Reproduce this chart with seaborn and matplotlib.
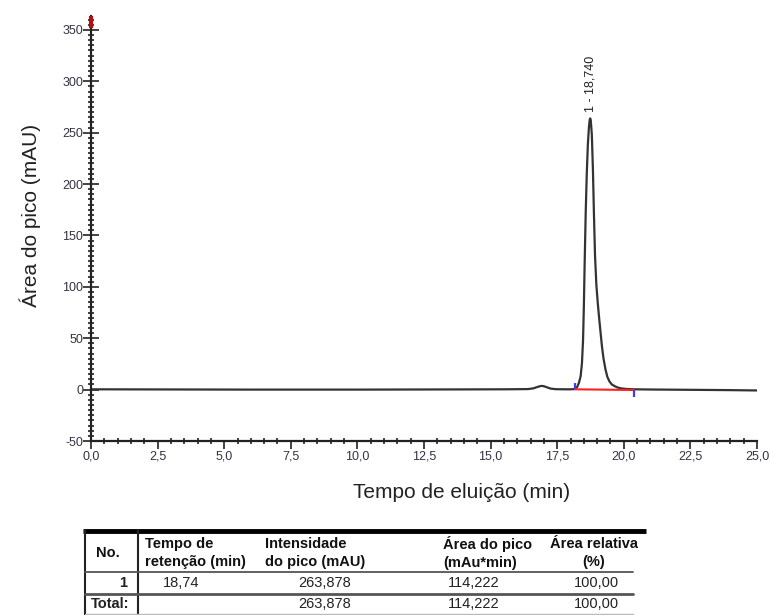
import matplotlib
matplotlib.use("Agg")
import matplotlib.pyplot as plt
from matplotlib.ticker import MultipleLocator, FuncFormatter
import seaborn as sns
import pandas as pd

# ---------------- data ----------------
time_min = [0.0, 2.0, 4.0, 6.0, 8.0, 10.0, 12.0, 14.0, 15.5, 16.4, 16.6, 16.75,
            16.85, 16.92, 17.0, 17.1, 17.25, 17.45, 17.8, 18.0, 18.15, 18.25, 18.32,
            18.38, 18.43, 18.47, 18.50, 18.53, 18.57, 18.61, 18.65, 18.69, 18.72,
            18.74, 18.76, 18.80, 18.84, 18.88, 18.92, 18.97, 19.02, 19.08, 19.13,
            19.18, 19.24, 19.31, 19.38, 19.46, 19.55, 19.65, 19.75, 19.90, 20.10,
            20.40, 21.0, 22.0, 23.0, 24.0, 24.6, 25.0]
signal_mau = [0.3, 0.2, 0.1, 0.0, 0.0, 0.0, 0.1, 0.2, 0.3, 0.5, 1.2, 2.5,
              3.3, 3.6, 3.3, 2.4, 1.0, 0.4, 0.3, 0.3, 0.5, 2.5, 7.0,
              13.0, 26.0, 48.0, 80.0, 122.0, 172.0, 210.0, 238.0, 255.0, 262.5,
              263.9, 262.0, 248.0, 215.0, 170.0, 130.0, 102.0, 85.0, 68.0, 55.0,
              42.0, 30.0, 20.0, 12.6, 8.0, 5.0, 3.5, 2.2, 1.2, 0.6,
              0.3, 0.1, -0.1, -0.3, -0.5, -0.7, -0.8]

integ_time = [18.17, 20.38]          # red integration baseline
integ_value = [0.3, -0.4]
event_time = [18.15, 20.40]          # blue peak start / end markers
event_low = [0.5, -7.0]
event_high = [6.5, -0.5]

peak_time = 18.74
peak_height = 263.878
peak_label = "1 - 18,740"

x_label = "Tempo de eluição (min)"
y_label = "Área do pico (mAU)"

table_header = ["No.", "Tempo de\nretenção (min)", "Intensidade\ndo pico (mAU)",
                "Área do pico\n(mAu*min)", "Área relativa\n(%)"]
table_row1 = ["1", "18,74", "263,878", "114,222", "100,00"]
table_total = ["Total:", "", "263,878", "114,222", "100,00"]

# ---------------- style ----------------
sns.set_theme(style="white")
plt.rcParams["font.family"] = ["Liberation Sans", "DejaVu Sans"]

W, H = 771, 615
fig = plt.figure(figsize=(W / 100, H / 100), dpi=100)
fig.patch.set_facecolor("white")

# main axes positioned in pixel coordinates
L, R, T, B = 91, 757, 16, 441
ax = fig.add_axes([L / W, 1 - B / H, (R - L) / W, (B - T) / H])

df = pd.DataFrame({"t": time_min, "s": signal_mau})
sns.lineplot(data=df, x="t", y="s", ax=ax, color="#333333", lw=1.6,
             estimator=None, sort=False)
sns.lineplot(x=integ_time, y=integ_value, ax=ax, color="#ff2020", lw=1.5,
             estimator=None)
ax.vlines(event_time, event_low, event_high, color="#3b3bff", lw=1.6)

ax.text(peak_time, peak_height + 6, peak_label, rotation=90, ha="center",
        va="bottom", fontsize=9, color="#222222")

ax.set_xlim(0, 25)
ax.set_ylim(-50, 363.5)

# red mark at the top of the y axis
ax.vlines([0], [352], [363.5], color="#b01010", lw=3, clip_on=False, zorder=5)

for sp in ["top", "right"]:
    ax.spines[sp].set_visible(False)
for sp in ["left", "bottom"]:
    ax.spines[sp].set_color("#222222")
    ax.spines[sp].set_linewidth(1.6)

ax.xaxis.set_major_locator(MultipleLocator(2.5))
ax.xaxis.set_minor_locator(MultipleLocator(0.5))
ax.yaxis.set_major_locator(MultipleLocator(50))
ax.yaxis.set_minor_locator(MultipleLocator(5))
ax.xaxis.set_major_formatter(FuncFormatter(lambda v, p: f"{v:.1f}".replace(".", ",")))
ax.yaxis.set_major_formatter(FuncFormatter(lambda v, p: f"{int(round(v))}"))

ax.tick_params(axis="x", which="major", direction="out", length=6, width=1.2,
               color="#222222", labelsize=9, pad=1, labelcolor="#333344",
               bottom=True)
ax.tick_params(axis="x", which="minor", direction="inout", length=4, width=1.2,
               color="#222222", bottom=True)
ax.tick_params(axis="y", which="major", direction="inout", length=11, width=1.2,
               color="#222222", labelsize=9, pad=0, labelcolor="#333344",
               left=True)
ax.tick_params(axis="y", which="minor", direction="inout", length=5, width=1.2,
               color="#222222", left=True)
for lab in ax.get_xticklabels() + ax.get_yticklabels():
    lab.set_fontfamily(["Liberation Sans Narrow", "Liberation Sans", "DejaVu Sans"])

ax.set_xlabel("")
ax.set_ylabel("")
fig.text(462 / W, 1 - 492 / H, x_label, ha="center", va="center", fontsize=15,
         color="#222222")
fig.text(30 / W, 1 - 215 / H, y_label, ha="center", va="center", fontsize=15,
         rotation=90, color="#222222")

# ---------------- results table (pixel coordinates) ----------------
tax = fig.add_axes([0, 0, 1, 1], facecolor="none")
tax.set_xlim(0, W)
tax.set_ylim(H, 0)
tax.axis("off")

tax.plot([83, 646], [530.5, 530.5], color="black", lw=3.5, solid_capstyle="butt")
tax.plot([85, 85], [530, 615], color="#222222", lw=1.5)
tax.plot([138, 138], [530, 615], color="#222222", lw=1.5)
tax.plot([85, 633], [571.5, 571.5], color="#555555", lw=1.3)
tax.plot([85, 633], [593.5, 593.5], color="#555555", lw=2.0)
tax.plot([85, 633], [613.5, 613.5], color="#bbbbbb", lw=1.0)

hdr_x = [108, 145, 265, 443, 594]
hdr_ha = ["center", "left", "left", "left", "center"]
for txt, x, ha in zip(table_header, hdr_x, hdr_ha):
    tax.text(x, 553, txt, ha=ha, va="center", fontsize=10.5, fontweight="bold",
             color="#111111", linespacing=1.4,
             multialignment="center" if ha == "center" else "left")

row_x = [127, 181, 325, 474, 596]
row_ha = ["right", "center", "center", "center", "center"]
for txt, x, ha in zip(table_row1, row_x, row_ha):
    tax.text(x, 583, txt, ha=ha, va="center", fontsize=10.5, color="#222222",
             fontweight="bold" if txt == "1" else "normal")
tot_x = [91, 181, 325, 474, 596]
tot_ha = ["left", "center", "center", "center", "center"]
for txt, x, ha in zip(table_total, tot_x, tot_ha):
    tax.text(x, 604, txt, ha=ha, va="center", fontsize=10.5, color="#222222",
             fontweight="bold" if txt == "Total:" else "normal")

fig.savefig("out.png", dpi=100, facecolor="white")
